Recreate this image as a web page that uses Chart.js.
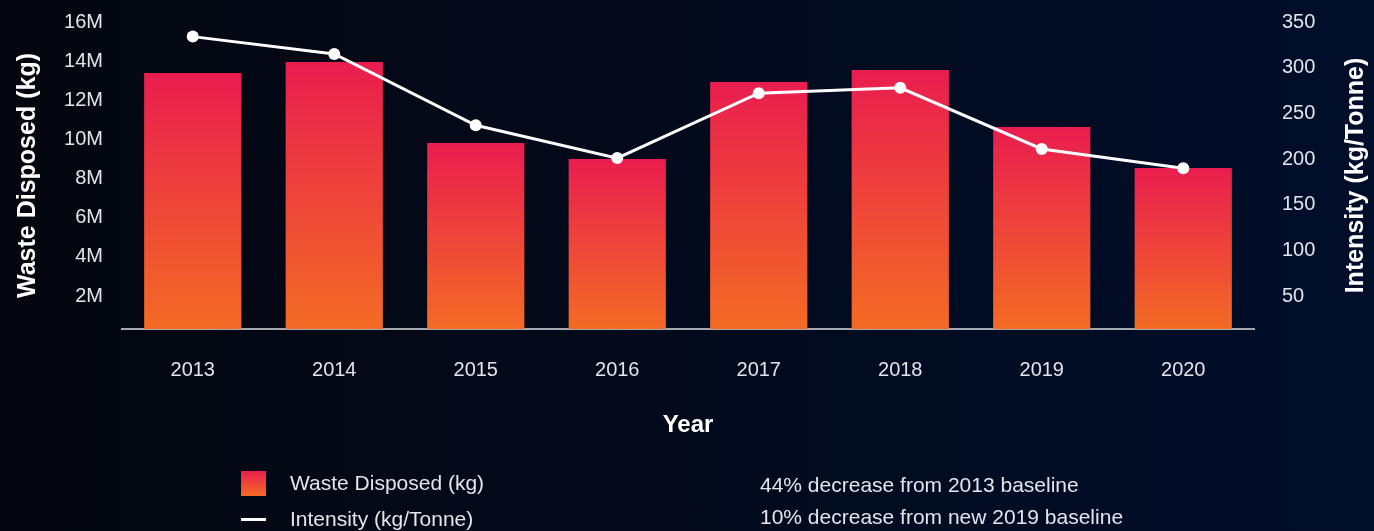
<!DOCTYPE html>
<html>
<head>
<meta charset="utf-8">
<script src="https://cdn.jsdelivr.net/npm/chart.js@4.4.1/dist/chart.umd.min.js"></script>
<style>
	html, body { margin: 0; padding: 0; }
	body { width: 1374px; height: 531px; overflow: hidden; background: linear-gradient(90deg, #04070f 0%, #020a1c 50%, #010e2a 100%); font-family: 'Liberation Sans', Arial, sans-serif; }
	.wrap { position: relative; width: 1374px; height: 531px; }
	.legend, .notes { position: absolute; color: #e2e5ec; font-size: 21px; }
	.legend { left: 241px; top: 465px; }
	.lg-item { display: flex; align-items: center; height: 36px; }
	.lg-box { width: 25px; height: 25px; margin-right: 24px; }
	.lg-line { width: 25px; height: 3px; margin-right: 24px; background: #fff; }
	.notes { left: 760px; top: 469px; }
	.notes div { height: 32px; line-height: 32px; }
</style>
</head>
<body>
<div class="wrap">
	<canvas id="chart" width="1374" height="531"></canvas>
	<div class="legend" id="legend"></div>
	<div class="notes" id="notes"></div>
</div>
<script>
// Waste disposed vs intensity

const YEARS = ['2013', '2014', '2015', '2016', '2017', '2018', '2019', '2020'];
const WASTE = [13.39e6, 13.96e6, 9.82e6, 9.0e6, 12.93e6, 13.55e6, 10.63e6, 8.54e6];
const INTENSITY = [334, 315, 237, 201, 272, 278, 211, 190];

const WASTE_TICKS = [2e6, 4e6, 6e6, 8e6, 10e6, 12e6, 14e6, 16e6];
const INTENSITY_TICKS = [50, 100, 150, 200, 250, 300, 350];
const WASTE_RANGE = [0.314e6, 16e6];
const INTENSITY_RANGE = [13.9, 350];

const NOTES = ['44% decrease from 2013 baseline', '10% decrease from new 2019 baseline'];

const C = { pink: '#e91d4f', orange: '#f36b24', text: '#e2e5ec', axis: '#a4a8b0' };
const FONT = "'Liberation Sans', Arial, sans-serif";

function barFill(c) {
	const { chart } = c;
	const { ctx, chartArea, scales } = chart;
	if (!chartArea || c.type !== 'data') return C.pink;
	const top = scales.y.getPixelForValue(c.raw);
	const g = ctx.createLinearGradient(0, top, 0, chartArea.bottom);
	g.addColorStop(0, C.pink);
	g.addColorStop(1, C.orange);
	return g;
}

const rightTitle = {
	id: 'rightTitle',
	afterDraw(chart) {
		const { ctx, chartArea } = chart;
		ctx.save();
		ctx.translate(1356, (chartArea.top + chartArea.bottom) / 2);
		ctx.rotate(-Math.PI / 2);
		ctx.font = `bold 25px ${FONT}`;
		ctx.fillStyle = '#ffffff';
		ctx.textAlign = 'center';
		ctx.textBaseline = 'middle';
		ctx.fillText('Intensity (kg/Tonne)', 0, 0);
		ctx.restore();
	}
};

// fixed axis box, no extra label padding
const fixWidth = w => s => { s.width = w; s.paddingTop = 0; s.paddingBottom = 0; };

const chart = new Chart(document.getElementById('chart'), {
	data: {
		labels: YEARS,
		datasets: [
			{ type: 'line', label: 'Intensity (kg/Tonne)', data: INTENSITY, yAxisID: 'y1', borderColor: '#ffffff', borderWidth: 3, tension: 0, pointRadius: 6, pointBackgroundColor: '#ffffff', pointBorderWidth: 0, order: 1 },
			{ type: 'bar', label: 'Waste Disposed (kg)', data: WASTE, yAxisID: 'y', backgroundColor: barFill, categoryPercentage: 1, barPercentage: 0.687, clip: 0, order: 2 },
		]
	},
	options: {
		responsive: false,
		animation: false,
		layout: { padding: { top: 22, bottom: 91, left: 0, right: 0 } },
		plugins: { legend: { display: false }, tooltip: { enabled: false } },
		scales: {
			x: {
				grid: { display: false, drawTicks: false },
				border: { display: true, color: C.axis, width: 2 },
				ticks: { color: C.text, font: { family: FONT, size: 20 }, padding: 29 },
				title: { display: true, text: 'Year', color: '#ffffff', font: { family: FONT, size: 24, weight: 'bold' }, padding: 0 },
				afterFit: s => { s.height = 111; }
			},
			y: {
				position: 'left',
				min: WASTE_RANGE[0], max: WASTE_RANGE[1],
				grid: { display: false, drawTicks: false },
				border: { display: false },
				ticks: { color: C.text, font: { family: FONT, size: 20 }, padding: 19, callback: v => (v / 1e6) + 'M' },
				afterBuildTicks: s => { s.ticks = WASTE_TICKS.map(value => ({ value })); },
				title: { display: true, text: 'Waste Disposed (kg)', color: '#ffffff', font: { family: FONT, size: 25, weight: 'bold' }, padding: { top: 13, bottom: 0 } },
				afterFit: fixWidth(122)
			},
			y1: {
				position: 'right',
				min: INTENSITY_RANGE[0], max: INTENSITY_RANGE[1],
				grid: { display: false, drawTicks: false },
				border: { display: false },
				ticks: { color: C.text, font: { family: FONT, size: 20 }, padding: 28 },
				afterBuildTicks: s => { s.ticks = INTENSITY_TICKS.map(value => ({ value })); },
				afterFit: fixWidth(120)
			}
		}
	},
	plugins: [rightTitle]
});

// Legend + notes
const lg = document.getElementById('legend');
lg.innerHTML = chart.data.datasets.slice().reverse().map(ds => `
	<div class="lg-item">
		<span class="${ds.type === 'bar' ? 'lg-box' : 'lg-line'}" style="${ds.type === 'bar' ? `background:linear-gradient(${C.pink}, ${C.orange})` : ''}"></span>
		<span>${ds.label}</span>
	</div>`).join('');
document.getElementById('notes').innerHTML = NOTES.map(n => `<div>${n}</div>`).join('');
</script>
</body>
</html>
